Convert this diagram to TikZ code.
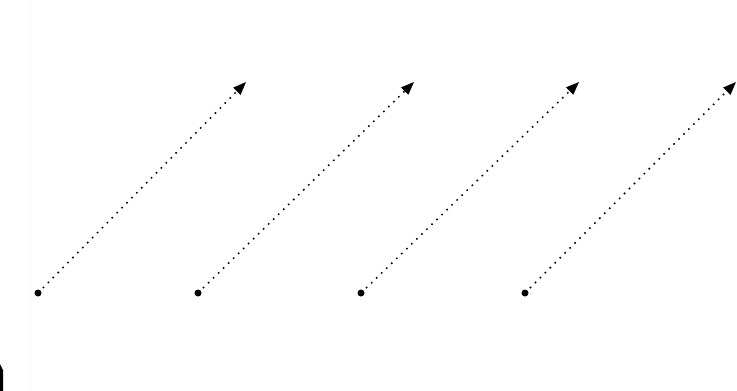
\documentclass[tikz,border=0pt]{standalone}
\usetikzlibrary{arrows.meta}
\begin{document}
\begin{tikzpicture}[x=1pt,y=-1pt,
  vec/.style={line width=1.5pt, dash pattern=on 1.6pt off 5.4pt, -{Triangle[length=13pt,width=10pt]}},
  dotpt/.style={circle, fill=black, inner sep=0pt, minimum size=7pt}]
\useasboundingbox (0,0) rectangle (737,391);
\fill[white] (0,0) rectangle (737,391);
\draw[black!3, line width=1pt] (30,0) -- (30,391);
\node[dotpt] (s1) at (38,293) {};
\node[dotpt] (s2) at (198,293) {};
\node[dotpt] (s3) at (361,293) {};
\node[dotpt] (s4) at (525,293) {};
\coordinate (e1) at (246,82);
\coordinate (e2) at (414,82);
\coordinate (e3) at (579,82);
\coordinate (e4) at (736,82);
\foreach \i in {1,...,4} \draw[vec] (s\i.center) -- (e\i);
\fill[black] (0,364) -- (3,370) -- (3,391) -- (0,391) -- cycle;
\end{tikzpicture}
\end{document}
